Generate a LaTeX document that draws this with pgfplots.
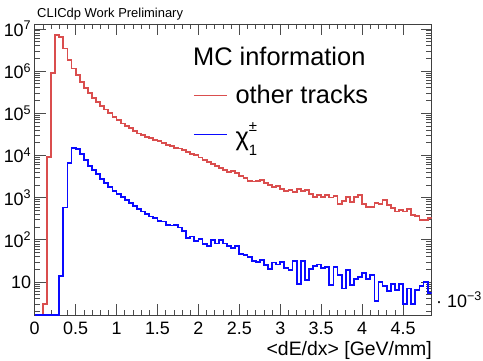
\documentclass[border=0pt]{standalone}
\usepackage{fontspec}
\setmainfont{Liberation Sans}
\usepackage{pgfplots}
\pgfplotsset{compat=1.18}
\definecolor{hred}{RGB}{218,78,78}
\definecolor{hblue}{RGB}{10,10,255}
\begin{document}
\begin{tikzpicture}[x=1bp,y=1bp]
\useasboundingbox (0,0) rectangle (483,360);
\begin{axis}[
  at={(34.7bp,45bp)}, anchor=south west,
  width=397bp, height=291bp, scale only axis,
  ymode=log, xmin=0, xmax=4.85, ymin=1.65, ymax=1.3e7,
  xtick={0,0.5,1,1.5,2,2.5,3,3.5,4,4.5},
  xticklabels={0,0.5,1,1.5,2,2.5,3,3.5,4,4.5},
  minor x tick num=4,
  ytick={10,100,1000,10000,100000,1000000,10000000},
  yticklabels={10,10\textsuperscript{2},10\textsuperscript{3},10\textsuperscript{4},10\textsuperscript{5},10\textsuperscript{6},10\textsuperscript{7}},
  minor ytick={2,3,4,5,6,7,8,9,20,30,40,50,60,70,80,90,200,300,400,500,600,700,800,900,2000,3000,4000,5000,6000,7000,8000,9000,20000,30000,40000,50000,60000,70000,80000,90000,200000,300000,400000,500000,600000,700000,800000,900000,2000000,3000000,4000000,5000000,6000000,7000000,8000000,9000000},
  tick align=inside, tick pos=both,
  major tick length=11bp, minor tick length=5.5bp,
  tick style={black!70, line width=0.6bp},
  axis line style={black!75, line width=0.8bp},
  ticklabel style={font=\fontsize{18}{20}\selectfont},
  xticklabel style={inner sep=0pt, yshift=-7bp},
  legend style={at={(axis description cs:0.399,0.79)}, anchor=north west,
    draw=none, fill=none, inner sep=0pt, row sep=17bp,
    font=\fontsize{25.5}{28}\selectfont,
    nodes={inner sep=0pt}},
  /tikz/every odd column/.append style={column sep=8bp},
  legend cell align=left,
  legend image code/.code={\draw[#1, line width=1.2bp] (0bp,0bp) -- (33bp,0bp);},
]
\addplot[const plot mark left, hred, line width=1.8bp] table {
x y
0 1.65
0.05 1.65
0.1 3
0.15 9300
0.2 880000
0.25 7100000
0.3 6500000
0.35 3400000
0.4 1800000
0.45 1150000
0.5 800000
0.55 540000
0.6 400000
0.65 295000
0.7 233000
0.75 187000
0.8 148000
0.85 123000
0.9 99000
0.95 80000
1.0 68000
1.05 57000
1.1 50000
1.15 44000
1.2 38000
1.25 33000
1.3 30000
1.35 27500
1.4 25500
1.45 23500
1.5 21500
1.55 19800
1.6 18000
1.65 16800
1.7 15200
1.75 14500
1.8 13200
1.85 12300
1.9 11000
1.95 10200
2.0 8900
2.05 7800
2.1 7000
2.15 6200
2.2 5600
2.25 5000
2.3 4600
2.35 4000
2.4 4300
2.45 3750
2.5 3300
2.55 2850
2.6 2450
2.65 2400
2.7 2450
2.75 2600
2.8 2200
2.85 2000
2.9 1750
2.95 1900
3.0 1580
3.05 1430
3.1 1510
3.15 1370
3.2 1580
3.25 1430
3.3 1500
3.35 1230
3.4 1050
3.45 1150
3.5 1050
3.55 1170
3.6 1000
3.65 1100
3.7 690
3.75 830
3.8 1050
3.85 800
3.9 1050
3.95 1150
4.0 690
4.05 610
4.1 610
4.15 740
4.2 700
4.25 890
4.3 675
4.35 560
4.4 470
4.45 515
4.5 470
4.55 530
4.6 394
4.65 360
4.7 300
4.75 300
4.8 330
4.85 330
};
\addlegendentry{other tracks}
\addplot[const plot mark left, hblue, line width=1.8bp] table {
x y
0 1.65
0.05 1.65
0.1 1.65
0.15 1.65
0.2 1.65
0.25 1.65
0.3 14
0.35 585
0.4 6500
0.45 15000
0.5 14000
0.55 10700
0.6 7700
0.65 5600
0.7 4500
0.75 3550
0.8 2750
0.85 2180
0.9 1750
0.95 1430
1.0 1200
1.05 1020
1.1 890
1.15 740
1.2 635
1.25 540
1.3 470
1.35 400
1.4 355
1.45 325
1.5 280
1.55 270
1.6 225
1.65 218
1.7 225
1.75 195
1.8 162
1.85 112
1.9 120
1.95 93
2.0 105
2.05 78
2.1 72
2.15 98
2.2 82
2.25 98
2.3 82
2.35 72
2.4 63
2.45 72
2.5 47
2.55 43
2.6 39
2.65 31
2.7 29.5
2.75 33
2.8 25
2.85 20
2.9 29
2.95 26
3.0 30
3.05 21
3.1 19
3.15 31
3.2 9
3.25 31
3.3 11
3.35 20
3.4 24
3.45 26
3.5 21
3.55 23
3.6 8.4
3.65 23
3.7 14.5
3.75 7
3.8 19
3.85 8.4
3.9 12
3.95 13
4.0 16
4.05 12
4.1 14.5
4.15 3.5
4.2 10
4.25 8
4.3 6
4.35 9
4.4 6.5
4.45 9
4.5 3
4.55 7
4.6 3
4.65 6.5
4.7 8
4.75 10
4.8 5.5
4.85 5.5
};
\addlegendentry{χ\makebox[0pt][l]{\raisebox{0.55em}{\fontsize{15}{15}\selectfont ±}}\raisebox{-0.4em}{\fontsize{15}{15}\selectfont 1}}
\node[anchor=base west, font=\fontsize{25.5}{28}\selectfont, inner sep=0pt] at (axis description cs:0.3987,0.858) {MC information};
\end{axis}
\node[anchor=base west, font=\fontsize{13}{15}\selectfont, inner sep=0pt] at (37,343) {CLICdp Work Preliminary};
\node[anchor=base east, font=\fontsize{19.5}{22}\selectfont, inner sep=0pt] at (432,5) {<dE/dx> [GeV/mm]};
\node[anchor=base west, font=\fontsize{18}{20}\selectfont, inner sep=0pt] at (436,53) {· 10\textsuperscript{−3}};
\end{tikzpicture}
\end{document}
